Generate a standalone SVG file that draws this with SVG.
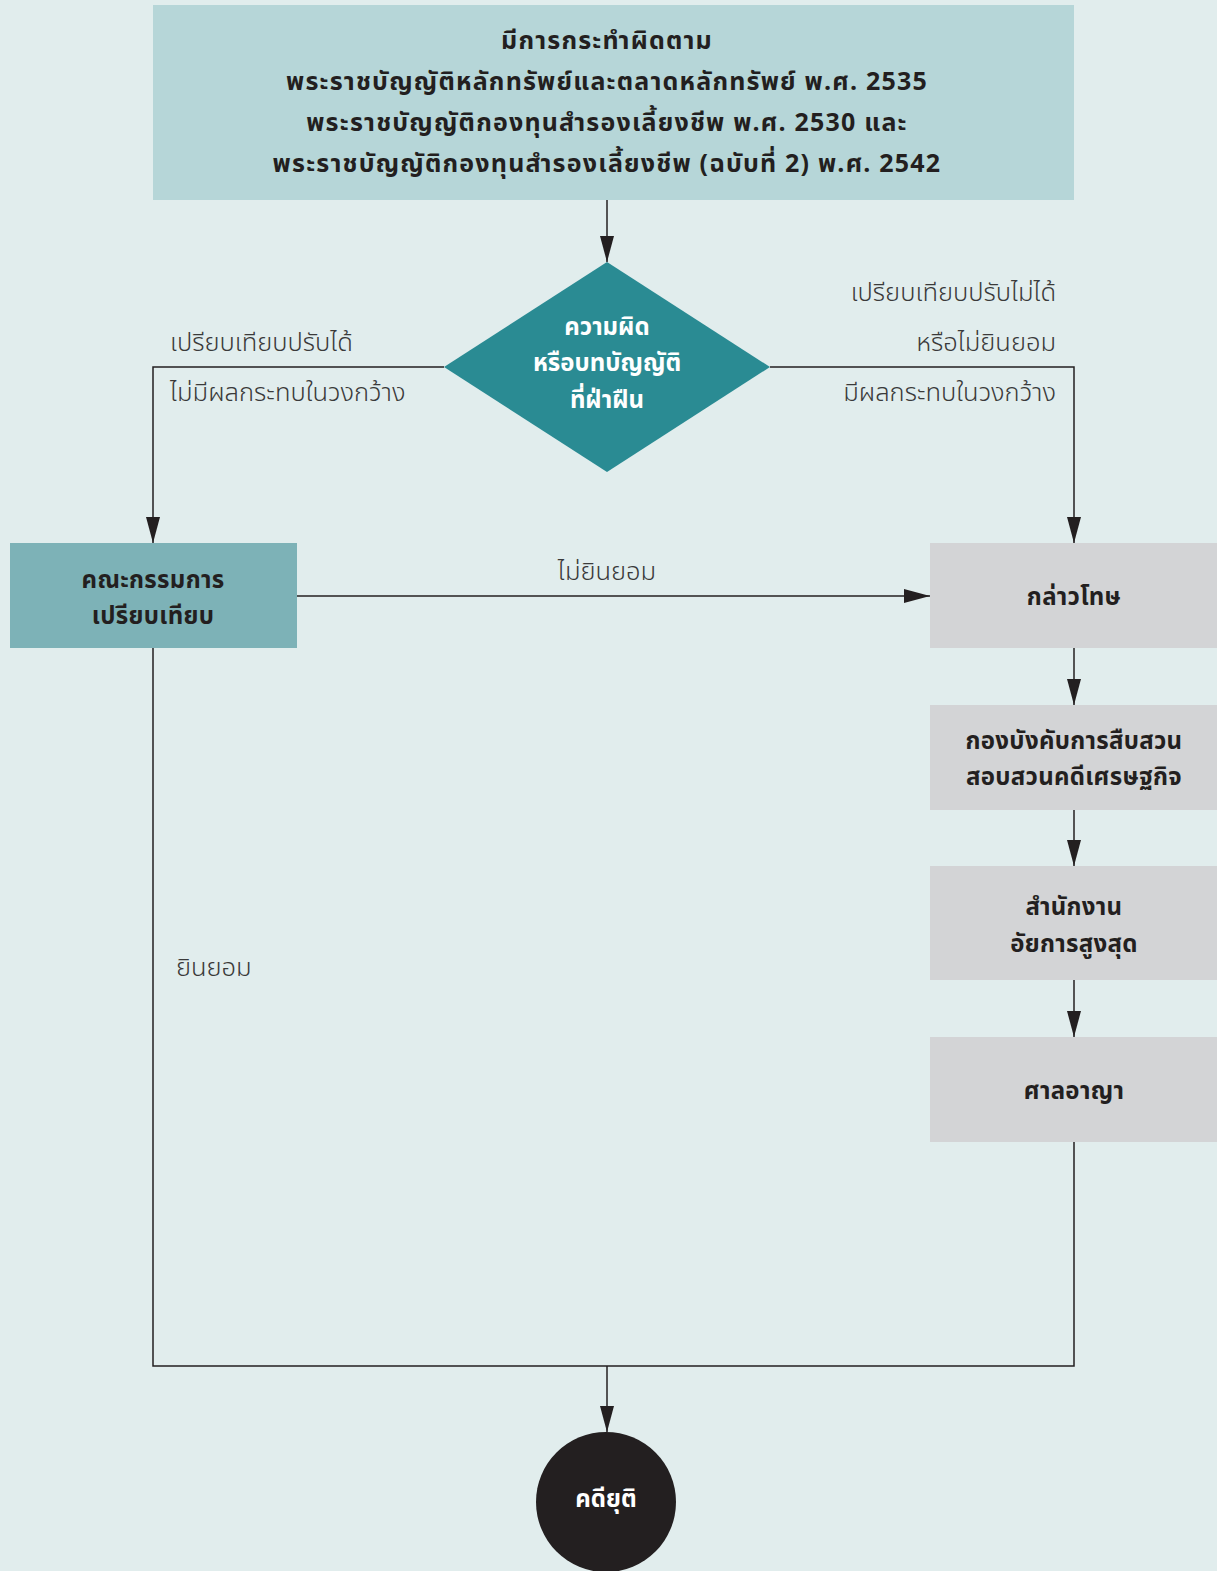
<svg xmlns="http://www.w3.org/2000/svg" width="1217" height="1571" viewBox="0 0 1217 1571">
<defs>
<marker id="ah" markerWidth="26" markerHeight="14" refX="26" refY="7" orient="auto" markerUnits="userSpaceOnUse">
<path d="M0,0 L26,7 L0,14 Z" fill="#231f20"/>
</marker>
<style>
text{font-family:"Noto Sans Thai","Noto Sans","Liberation Sans",sans-serif;text-anchor:middle}
.b{font-weight:bold;font-size:25px;letter-spacing:1.2px;fill:#231f20}
.m{font-weight:bold;font-size:24px;letter-spacing:0.3px;fill:#231f20}
.w{font-weight:bold;font-size:24px;fill:#ffffff}
.l{font-weight:300;font-size:25.5px;fill:#3a3a3a}
.c{fill:none;stroke:#231f20;stroke-width:1.5}
</style>
</defs>
<rect width="1217" height="1571" fill="#e1eded"/>
<g id="connectors">
<line class="c" x1="607" y1="200" x2="607" y2="262" marker-end="url(#ah)"/>
<polyline class="c" points="444,367 153,367 153,543" marker-end="url(#ah)"/>
<polyline class="c" points="770,367 1074,367 1074,543" marker-end="url(#ah)"/>
<line class="c" x1="297" y1="596" x2="930" y2="596" marker-end="url(#ah)"/>
<line class="c" x1="1074" y1="648" x2="1074" y2="705" marker-end="url(#ah)"/>
<line class="c" x1="1074" y1="810" x2="1074" y2="866" marker-end="url(#ah)"/>
<line class="c" x1="1074" y1="980" x2="1074" y2="1037" marker-end="url(#ah)"/>
<polyline class="c" points="153,648 153,1366 1074,1366 1074,1142"/>
<line class="c" x1="607" y1="1366" x2="607" y2="1432" marker-end="url(#ah)"/>
<text class="l" x="170" y="351" style="text-anchor:start">เปรียบเทียบปรับได้</text>
<text class="l" x="170" y="401" style="text-anchor:start">ไม่มีผลกระทบในวงกว้าง</text>
<text class="l" x="1056" y="301" style="text-anchor:end">เปรียบเทียบปรับไม่ได้</text>
<text class="l" x="1056" y="351" style="text-anchor:end">หรือไม่ยินยอม</text>
<text class="l" x="1056" y="401" style="text-anchor:end">มีผลกระทบในวงกว้าง</text>
<text class="l" x="607" y="580">ไม่ยินยอม</text>
<text class="l" x="176" y="976" style="text-anchor:start">ยินยอม</text>
</g>
<g id="n-start">
<rect x="153" y="5" width="921" height="195" fill="#b6d6d8"/>
<text class="b" x="607" y="49">มีการกระทำผิดตาม</text>
<text class="b" x="607" y="90">พระราชบัญญัติหลักทรัพย์และตลาดหลักทรัพย์ พ.ศ. 2535</text>
<text class="b" x="607" y="131">พระราชบัญญัติกองทุนสำรองเลี้ยงชีพ พ.ศ. 2530 และ</text>
<text class="b" x="607" y="172">พระราชบัญญัติกองทุนสำรองเลี้ยงชีพ (ฉบับที่ 2) พ.ศ. 2542</text>
</g>
<g id="n-decision">
<polygon points="607,262 770,367 607,472 444,367" fill="#2a8b93"/>
<text class="w" x="607" y="335">ความผิด</text>
<text class="w" x="607" y="371">หรือบทบัญญัติ</text>
<text class="w" x="607" y="408">ที่ฝ่าฝืน</text>
</g>
<g id="n-committee">
<rect x="10" y="543" width="287" height="105" fill="#7db2b7"/>
<text class="m" x="153" y="588">คณะกรรมการ</text>
<text class="m" x="153" y="624">เปรียบเทียบ</text>
</g>
<g id="n-accuse">
<rect x="930" y="543" width="287" height="105" fill="#d3d4d6"/>
<text class="m" x="1074" y="605">กล่าวโทษ</text>
</g>
<g id="n-dsi">
<rect x="930" y="705" width="287" height="105" fill="#d3d4d6"/>
<text class="m" x="1074" y="749">กองบังคับการสืบสวน</text>
<text class="m" x="1074" y="785">สอบสวนคดีเศรษฐกิจ</text>
</g>
<g id="n-prosecutor">
<rect x="930" y="866" width="287" height="114" fill="#d3d4d6"/>
<text class="m" x="1074" y="915">สำนักงาน</text>
<text class="m" x="1074" y="952">อัยการสูงสุด</text>
</g>
<g id="n-court">
<rect x="930" y="1037" width="287" height="105" fill="#d3d4d6"/>
<text class="m" x="1074" y="1099">ศาลอาญา</text>
</g>
<g id="n-end">
<circle cx="606" cy="1502" r="70" fill="#231f20"/>
<text class="w" x="606" y="1507">คดียุติ</text>
</g>
</svg>
